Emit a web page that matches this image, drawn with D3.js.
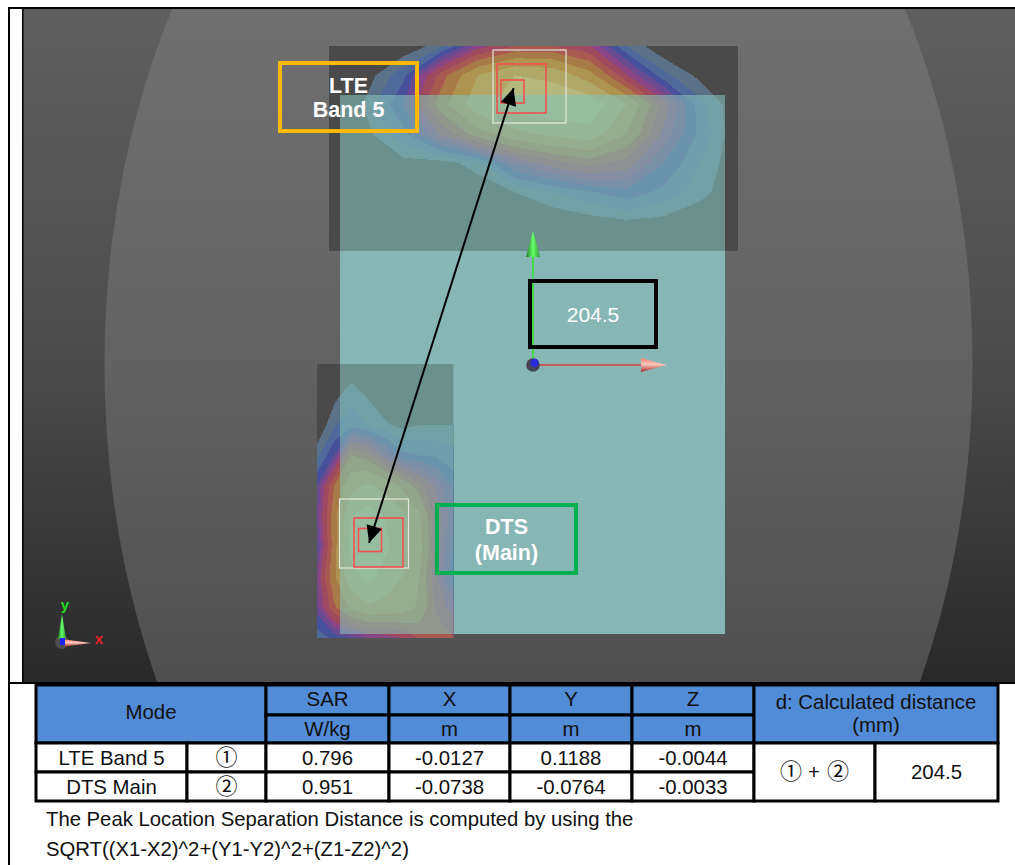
<!DOCTYPE html>
<html><head><meta charset="utf-8">
<script src="https://cdn.jsdelivr.net/npm/d3@7/dist/d3.min.js"></script>
<style>html,body{margin:0;padding:0;background:#fff}svg{display:block}text{font-family:"Liberation Sans",Arial,sans-serif}</style>
</head><body><div id="c"></div>
<script>
// ---- data ----
const modes = ["LTE Band 5", "DTS Main"];
const marks = ["①", "②"];
const sarValues = [0.796, 0.951];
const xValues = [-0.0127, -0.0738];
const yValues = [0.1188, -0.0764];
const zValues = [-0.0044, -0.0033];
const xText = ["-0.0127", "-0.0738"];
const yText = ["0.1188", "-0.0764"];
const zText = ["-0.0044", "-0.0033"];
const distance = "204.5";
const headerTop = ["SAR", "X", "Y", "Z"];
const headerUnits = ["W/kg", "m", "m", "m"];
const noteLines = ["The Peak Location Separation Distance is computed by using the", "SQRT((X1-X2)^2+(Y1-Y2)^2+(Z1-Z2)^2)"];
const levels = [0.05, 0.1, 0.16, 0.22, 0.28, 0.34, 0.42, 0.5, 0.6, 0.72, 0.85];
const bandColors = ["#5b7188", "#4f6a9a", "#47509a", "#6a4a90", "#8a4585", "#a04a60", "#a85a50", "#a87a48", "#ad9450", "#b0a868", "#b4b87c"];
const lteGrid = [
 [0,0,0,.08,.30,.42,.42,.35,.10,0,0,0],
 [0,.02,.14,.45,.72,.85,.82,.65,.35,.12,.03,0],
 [0,.06,.22,.55,.80,.92,.95,.95,.72,.38,.12,0],
 [0,.03,.14,.35,.55,.68,.75,.80,.60,.32,.14,0],
 [0,0,.03,.02,.08,.28,.38,.45,.38,.22,.10,0],
 [0,0,0,0,0,.05,.10,.15,.20,.14,.07,0],
 [0,0,0,0,0,0,0,.02,.04,.03,0,0],
 [0,0,0,0,0,0,0,0,0,0,0,0]];
const dtsGrid = [
 [0,0,0,0,0,0,0,0,0],
 [0,.03,.08,.04,0,0,0,0,0],
 [0,.09,.14,.10,.06,.03,.05,.05,.05],
 [.08,.22,.50,.45,.30,.18,.16,.15,.12],
 [.22,.50,.68,.74,.68,.58,.45,.32,.20],
 [.25,.55,.85,.92,.84,.75,.62,.38,.24],
 [.20,.55,.90,1,.88,.78,.65,.38,.20],
 [.28,.58,.80,.88,.80,.72,.60,.35,.18],
 [.25,.48,.62,.70,.68,.66,.58,.40,.30],
 [.12,.18,.22,.28,.30,.34,.42,.48,.42]];

// ---- layout ----
const W = 1015, H = 865;
const svg = d3.select("#c").append("svg").attr("width", W).attr("height", H);
const defs = svg.append("defs");
function vGrad(id, stops, y1, y2){
  const g = defs.append("linearGradient").attr("id", id).attr("gradientUnits","userSpaceOnUse")
    .attr("x1",0).attr("x2",0).attr("y1",y1).attr("y2",y2);
  stops.forEach(s=>g.append("stop").attr("offset",s[0]).attr("stop-color",s[1]));
}
vGrad("bgOuter", [[0,"#5f5f5f"],[0.5,"#4d4d4d"],[1,"#292929"]], 9, 682);
vGrad("bgInner", [[0,"#707070"],[0.5,"#636363"],[1,"#4f4f4f"]], 9, 682);

const view = {x:23, y:9, w:992, h:673};
defs.append("clipPath").attr("id","viewClip").append("rect").attr("x",view.x).attr("y",view.y).attr("width",view.w).attr("height",view.h);
const scene = svg.append("g").attr("clip-path","url(#viewClip)");
scene.append("rect").attr("x",view.x).attr("y",view.y).attr("width",view.w).attr("height",view.h).attr("fill","url(#bgOuter)");
scene.append("ellipse").attr("cx",538.5).attr("cy",365).attr("rx",434).attr("ry",664).attr("fill","url(#bgInner)");

const phone = {x:340, y:95, w:385, h:539};
scene.append("rect").attr("x",phone.x).attr("y",phone.y).attr("width",phone.w).attr("height",phone.h).attr("fill","#87b7b5");

const scans = [
 {id:"s1", x:329, y:46, w:409, h:205, grid:lteGrid},
 {id:"s2", x:317, y:364, w:136.5, h:274, grid:dtsGrid}
];
scans.forEach(s=>{
  const rows = s.grid.length, cols = s.grid[0].length;
  const clip = defs.append("clipPath").attr("id",s.id);
  clip.append("rect").attr("x",s.x).attr("y",s.y).attr("width",s.w).attr("height",s.h);
  const g = scene.append("g").attr("clip-path",`url(#${s.id})`);
  g.append("rect").attr("x",s.x).attr("y",s.y).attr("width",s.w).attr("height",s.h).attr("fill","#4a4a4a");
  const contours = d3.contours().size([cols, rows]).smooth(true).thresholds(levels)(s.grid.flat());
  const sx = d3.scaleLinear().domain([0.5, cols-0.5]).range([s.x, s.x+s.w]);
  const sy = d3.scaleLinear().domain([0.5, rows-0.5]).range([s.y, s.y+s.h]);
  const path = d3.geoPath(d3.geoTransform({point(x,y){this.stream.point(sx(x), sy(y));}}));
  g.selectAll("path").data(contours).join("path").attr("d",path)
    .attr("fill",(d,i)=>bandColors[i]).attr("shape-rendering","crispEdges");
  g.append("rect").attr("x",phone.x).attr("y",phone.y).attr("width",phone.w).attr("height",phone.h)
    .attr("fill","#84bfb8").attr("fill-opacity",0.6);
});

// peak positions from the table's coordinates
const px = d3.scaleLinear().domain([xValues[1], xValues[0]]).range([370, 512.5]);
const py = d3.scaleLinear().domain([yValues[1], yValues[0]]).range([540, 91.5]);
const peaks = xValues.map((v,i)=>[px(v), py(yValues[i])]);
const boxOffsets = [
 {white:[17,-5], big:[9,-3]},
 {white:[4,-6.5], big:[8.5,2.5]}
];
peaks.forEach((p,i)=>{
  const o = boxOffsets[i], wh = i===0?73:69;
  scene.append("rect").attr("x",p[0]+o.white[0]-wh/2).attr("y",p[1]+o.white[1]-wh/2).attr("width",wh).attr("height",wh)
    .attr("fill","none").attr("stroke","#e6e6e0").attr("stroke-width",1.2);
  scene.append("rect").attr("x",p[0]+o.big[0]-24.5).attr("y",p[1]+o.big[1]-24.5).attr("width",49).attr("height",49)
    .attr("fill","none").attr("stroke","#f25050").attr("stroke-width",1.6);
  scene.append("rect").attr("x",p[0]-11.5).attr("y",p[1]-11.5).attr("width",23).attr("height",23)
    .attr("fill","none").attr("stroke","#f25050").attr("stroke-width",1.6);
});

// double headed arrow between the peaks
(function(){
  const a = peaks[0], b = peaks[1];
  const dx = a[0]-b[0], dy = a[1]-b[1], L = Math.hypot(dx,dy), ux = dx/L, uy = dy/L;
  const A = [a[0]+ux*3.5, a[1]+uy*3.5], B = [b[0]-ux*3, b[1]-uy*3];
  scene.append("line").attr("x1",A[0]).attr("y1",A[1]).attr("x2",B[0]).attr("y2",B[1]).attr("stroke","#000").attr("stroke-width",2);
  const head = (t,sx,sy)=>{
    const len=17, hw=8, bx=t[0]+sx*len, by=t[1]+sy*len;
    scene.append("polygon").attr("fill","#000")
      .attr("points",[[t[0],t[1]],[bx+(-sy)*hw,by+sx*hw],[bx-(-sy)*hw,by-sx*hw]].map(q=>q.join(",")).join(" "));
  };
  head(A,-ux,-uy); head(B,ux,uy);
})();

// axes triad in the middle
const hg = defs.append("linearGradient").attr("id","greenH");
[[0,"#1c7a2a"],[0.5,"#66ff66"],[1,"#2a9a3a"]].forEach(s=>hg.append("stop").attr("offset",s[0]).attr("stop-color",s[1]));
const rg = defs.append("linearGradient").attr("id","redV").attr("x1",0).attr("x2",0).attr("y1",0).attr("y2",1);
[[0,"#ff7a70"],[0.45,"#ffc8c0"],[1,"#a82828"]].forEach(s=>rg.append("stop").attr("offset",s[0]).attr("stop-color",s[1]));
const O = [533,365];
function triad(o, lenG, baseG, wG, lenR, baseR, wR, lineW){
  scene.append("line").attr("x1",o[0]).attr("x2",o[0]).attr("y1",o[1]).attr("y2",o[1]-baseG).attr("stroke","#46d846").attr("stroke-width",lineW);
  scene.append("line").attr("x1",o[0]).attr("x2",o[0]+baseR).attr("y1",o[1]).attr("y2",o[1]).attr("stroke","#c95a5a").attr("stroke-width",lineW);
  scene.append("polygon").attr("fill","url(#greenH)").attr("points",`${o[0]},${o[1]-lenG} ${o[0]-wG/2},${o[1]-baseG} ${o[0]+wG/2},${o[1]-baseG}`);
  scene.append("polygon").attr("fill","url(#redV)").attr("points",`${o[0]+lenR},${o[1]} ${o[0]+baseR},${o[1]-wR/2} ${o[0]+baseR},${o[1]+wR/2}`);
}
triad(O,134,108,14,134,108,14,2);
scene.append("circle").attr("cx",O[0]).attr("cy",O[1]).attr("r",6.8).attr("fill","#45454f");
scene.append("circle").attr("cx",O[0]+1.5).attr("cy",O[1]-2).attr("r",4.2).attr("fill","#2a2ae0");

// small orientation triad
const o2 = [62,643];
scene.append("circle").attr("cx",o2[0]).attr("cy",o2[1]-1).attr("r",7).attr("fill","#4c4c4c");
triad(o2,29,4,8,29,3,7,0);
scene.append("rect").attr("x",o2[0]-2).attr("y",o2[1]-5).attr("width",5).attr("height",7).attr("fill","#2020ff");
[["y",65,610,"#22dd22",15,"bold"],["x",99,644,"#ee2020",15,"bold"]].forEach(t=>{
  scene.append("text").attr("x",t[1]).attr("y",t[2]).attr("text-anchor","middle").attr("fill",t[3]).attr("font-size",t[4]).attr("font-weight",t[5]).text(t[0]);
});

// annotation boxes
const notes = [
 {x:280,y:63,w:137,h:68,c:"#FFB900",lines:["LTE","Band 5"],ys:[93,117],bold:true},
 {x:530,y:281,w:126,h:66,c:"#000",lines:[distance],ys:[322],bold:false},
 {x:437,y:505,w:139,h:68,c:"#00B050",lines:["DTS","(Main)"],ys:[534,560],bold:true}
];
notes.forEach(n=>{
  scene.append("rect").attr("x",n.x).attr("y",n.y).attr("width",n.w).attr("height",n.h).attr("fill","none").attr("stroke",n.c).attr("stroke-width",4);
  n.lines.forEach((l,i)=>scene.append("text").attr("x",n.x+n.w/2).attr("y",n.ys[i]).attr("text-anchor","middle")
    .attr("fill","#fff").attr("font-size",n.bold?21.5:21).attr("font-weight",n.bold?"bold":"normal").text(l));
});

// frame lines
const black = "#000";
[[8,7,1007,2],[8,7,2,858],[22,8,1.5,675],[8,682,1007,2]].forEach(r=>
  svg.append("rect").attr("x",r[0]).attr("y",r[1]).attr("width",r[2]).attr("height",r[3]).attr("fill",black));

// table
const blue = "#528bd6";
const colX = [36,187,266,389,510,632,754,875,998];
const rowY = [685,715,743,772,801];
const t = svg.append("g");
function cell(x1,y1,x2,y2,fill){
  t.append("rect").attr("x",x1).attr("y",y1).attr("width",x2-x1).attr("height",y2-y1).attr("fill",fill).attr("stroke","#000").attr("stroke-width",3);
}
function label(cx,y,s){
  t.append("text").attr("x",cx).attr("y",y).attr("text-anchor","middle").attr("fill","#111").attr("font-size",20.4).text(s);
}
function circled(cx,y,s){
  t.append("text").attr("x",cx).attr("y",y).attr("text-anchor","middle").attr("font-size",22).attr("fill","#111")
    .style("font-family","'Noto Sans CJK JP'").text(s);
}
cell(colX[0],rowY[0],colX[2],rowY[2],blue);
label((colX[0]+colX[2])/2,719,"Mode");
headerTop.forEach((h,i)=>{
  cell(colX[i+2],rowY[0],colX[i+3],rowY[1],blue);
  cell(colX[i+2],rowY[1],colX[i+3],rowY[2],blue);
  label((colX[i+2]+colX[i+3])/2,706,h);
  label((colX[i+2]+colX[i+3])/2,736,headerUnits[i]);
});
cell(colX[6],rowY[0],colX[8],rowY[2],blue);
label((colX[6]+colX[8])/2,709,"d: Calculated distance");
label((colX[6]+colX[8])/2,732,"(mm)");
modes.forEach((m,i)=>{
  const y1=rowY[i+2], y2=rowY[i+3], by=y1+22;
  const vals=[sarValues[i].toFixed(3),xText[i],yText[i],zText[i]];
  cell(colX[0],y1,colX[1],y2,"#fff"); label((colX[0]+colX[1])/2,by,m);
  cell(colX[1],y1,colX[2],y2,"#fff");
  circled((colX[1]+colX[2])/2,by,marks[i]);
  vals.forEach((v,j)=>{cell(colX[j+2],y1,colX[j+3],y2,"#fff"); label((colX[j+2]+colX[j+3])/2,by,v);});
});
cell(colX[6],rowY[2],colX[7],rowY[4],"#fff");
cell(colX[7],rowY[2],colX[8],rowY[4],"#fff");
circled(791,779,marks[0]);
label(814,779,"+");
circled(838,779,marks[1]);
label((colX[7]+colX[8])/2,779,distance);

// footnotes
defs.append("clipPath").attr("id","noteClip").append("rect").attr("x",40).attr("y",805).attr("width",593).attr("height",60);
const ng = svg.append("g").attr("clip-path","url(#noteClip)");
noteLines.forEach((l,i)=>ng.append("text").attr("x",46).attr("y",[826,856][i]).attr("font-size",20.3).attr("fill","#111").text(l));
</script></body></html>
